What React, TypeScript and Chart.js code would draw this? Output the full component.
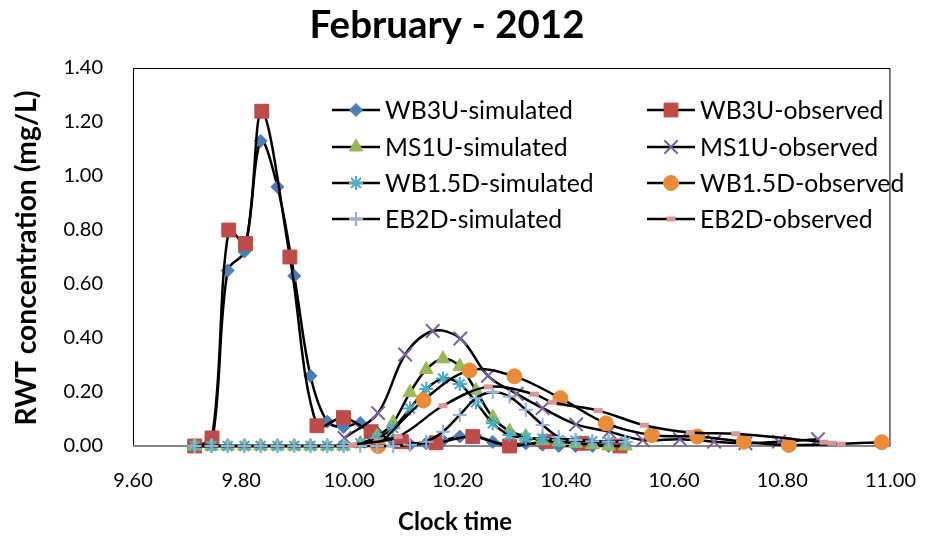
import React, { useEffect, useRef } from 'react';
import { Chart, registerables } from 'chart.js';
import { drawPoint } from 'chart.js/helpers';

Chart.register(...registerables);

const TITLE = 'February - 2012';
const X_TITLE = 'Clock time';
const Y_TITLE = 'RWT concentration (mg/L)';

const xTickValues = [9.6, 9.8, 10.0, 10.2, 10.4, 10.6, 10.8, 11.0];
const yTickValues = [0, 0.2, 0.4, 0.6, 0.8, 1.0, 1.2, 1.4];

// simulated series share one time grid
const simTimes = [9.714, 9.745, 9.775, 9.806, 9.836, 9.867, 9.898, 9.928, 9.959, 9.989, 10.020, 10.051, 10.081, 10.112, 10.142, 10.173, 10.204, 10.234, 10.265, 10.296, 10.326, 10.357, 10.387, 10.418, 10.449, 10.479, 10.510];
const wb3uSim = [0, 0.0, 0.65, 0.72, 1.13, 0.96, 0.63, 0.26, 0.09, 0.07, 0.085, 0.05, 0.02, 0.005, 0.01, 0.02, 0.035, 0.035, 0.015, 0.005, 0.01, 0.005, 0, 0, 0, 0, 0];
const ms1uSim = [0, 0, 0, 0, 0, 0, 0, 0, 0, 0, 0.01, 0.035, 0.087, 0.198, 0.283, 0.323, 0.295, 0.205, 0.106, 0.055, 0.035, 0.02, 0.015, 0.01, 0.005, 0, 0];
const wb15dSim = [0, 0, 0, 0, 0, 0, 0, 0, 0, 0, 0.01, 0.029, 0.066, 0.139, 0.211, 0.25, 0.23, 0.162, 0.084, 0.041, 0.03, 0.027, 0.022, 0.02, 0.018, 0.016, 0.015];
const eb2dSim = [0, 0, 0, 0, 0, 0, 0, 0, 0, 0, 0, 0, 0, 0.005, 0.016, 0.053, 0.115, 0.177, 0.2, 0.183, 0.134, 0.078, 0.033, 0.022, 0.018, 0.016, 0.015];

// observed series
const wb3uObsTimes = [9.714, 9.746, 9.777, 9.808, 9.838, 9.890, 9.940, 9.989, 10.040, 10.096, 10.160, 10.228, 10.296, 10.364, 10.430, 10.500];
const wb3uObs = [0, 0.03, 0.80, 0.75, 1.24, 0.70, 0.075, 0.105, 0.053, 0.016, 0.012, 0.035, 0, 0.016, 0.01, 0];

const ms1uObsTimes = [9.991, 10.053, 10.103, 10.154, 10.205, 10.256, 10.309, 10.357, 10.419, 10.480, 10.542, 10.611, 10.674, 10.732, 10.794, 10.866];
const ms1uObs = [0.03, 0.122, 0.339, 0.426, 0.398, 0.26, 0.193, 0.14, 0.08, 0.053, 0.022, 0.025, 0.016, 0.01, 0.016, 0.025];

const wb15dObsTimes = [10.053, 10.137, 10.222, 10.305, 10.390, 10.474, 10.559, 10.643, 10.729, 10.812, 10.984];
const wb15dObs = [0, 0.169, 0.28, 0.258, 0.177, 0.084, 0.041, 0.035, 0.016, 0.004, 0.014];

const eb2dObsTimes = [10.006, 10.090, 10.173, 10.257, 10.342, 10.375, 10.460, 10.545, 10.630, 10.714, 10.877, 10.892, 10.909];
const eb2dObs = [0.004, 0.035, 0.149, 0.219, 0.192, 0.162, 0.131, 0.077, 0.05, 0.045, 0.014, 0.01, 0.007];

const seriesLabels = [
  'WB3U-simulated', 'WB3U-observed',
  'MS1U-simulated', 'MS1U-observed',
  'WB1.5D-simulated', 'WB1.5D-observed',
  'EB2D-simulated', 'EB2D-observed',
];

const seriesData = [
  [simTimes, wb3uSim],
  [wb3uObsTimes, wb3uObs],
  [simTimes, ms1uSim],
  [ms1uObsTimes, ms1uObs],
  [simTimes, wb15dSim],
  [wb15dObsTimes, wb15dObs],
  [simTimes, eb2dSim],
  [eb2dObsTimes, eb2dObs],
];

const markerStyles = [
  { pointStyle: 'rectRot', color: '#4A7EBB', radius: 6.5, bw: 1 },
  { pointStyle: 'rect', color: '#BE4B48', radius: 9.8, bw: 1 },
  { pointStyle: 'triangle', color: '#98B954', radius: 8, bw: 1 },
  { pointStyle: 'crossRot', color: '#7D60A0', radius: 9.5, bw: 2 },
  { pointStyle: 'star', color: '#4BACC6', radius: 7, bw: 2 },
  { pointStyle: 'circle', color: '#EA8B3A', radius: 7.5, bw: 1 },
  { pointStyle: 'cross', color: '#94B2D8', radius: 7, bw: 2 },
  { pointStyle: 'line', color: '#D99795', radius: 4.5, bw: 5 },
];

const FONT = 'Lato, "Open Sans", sans-serif';

function fitSize(ctx, text, weight, target) {
  ctx.font = `${weight} 100px ${FONT}`;
  const w = ctx.measureText(text).width;
  return (100 * target) / w;
}

const overlayPlugin = {
  id: 'overlay',
  beforeDatasetsDraw(chart) {
    const { ctx, chartArea: a } = chart;
    ctx.save();
    ctx.strokeStyle = '#000';
    ctx.lineWidth = 1;
    ctx.strokeRect(a.left + 0.5, a.top + 0.5, a.right - a.left - 1, a.bottom - a.top - 1);
    ctx.strokeStyle = '#868686';
    ctx.lineWidth = 2;
    ctx.beginPath();
    ctx.moveTo(a.left, a.bottom);
    ctx.lineTo(a.right, a.bottom);
    ctx.stroke();
    ctx.restore();
  },
  afterDraw(chart) {
    const { ctx } = chart;
    ctx.save();
    ctx.fillStyle = '#000';
    ctx.textAlign = 'center';
    ctx.textBaseline = 'middle';

    // chart title
    let s = fitSize(ctx, TITLE, 'bold', 275);
    ctx.font = `bold ${s}px ${FONT}`;
    ctx.fillText(TITLE, 447, 26);

    // x axis title
    s = fitSize(ctx, X_TITLE, 'bold', 114);
    ctx.font = `bold ${s}px ${FONT}`;
    ctx.fillText(X_TITLE, 455, 522);

    // y axis title
    s = fitSize(ctx, Y_TITLE, 'bold', 335);
    ctx.font = `bold ${s}px ${FONT}`;
    ctx.save();
    ctx.translate(27, 258);
    ctx.rotate(-Math.PI / 2);
    ctx.fillText(Y_TITLE, 0, 0);
    ctx.restore();

    // legend
    const ls = fitSize(ctx, seriesLabels[0], 'normal', 188);
    const colX = [356, 671];
    const rowY = [110, 147, 183, 219];
    seriesLabels.forEach((label, i) => {
      const mx = colX[i % 2];
      const my = rowY[Math.floor(i / 2)];
      ctx.strokeStyle = '#000';
      ctx.lineWidth = 2.5;
      ctx.beginPath();
      ctx.moveTo(mx - 24, my);
      ctx.lineTo(mx + 24, my);
      ctx.stroke();
      const st = markerStyles[i];
      ctx.fillStyle = st.color;
      ctx.strokeStyle = st.color;
      ctx.lineWidth = st.bw;
      drawPoint(ctx, { pointStyle: st.pointStyle, radius: st.radius, borderWidth: st.bw, rotation: 0 }, mx, my);
      ctx.fillStyle = '#000';
      ctx.font = `normal ${ls}px ${FONT}`;
      ctx.textAlign = 'left';
      ctx.fillText(label, mx + 29, my + 1);
    });
    ctx.restore();
  },
};

export default function App() {
  const canvasRef = useRef(null);

  useEffect(() => {
    const datasets = seriesLabels.map((label, i) => {
      const [xs, ys] = seriesData[i];
      const st = markerStyles[i];
      return {
        label,
        data: xs.map((x, k) => ({ x, y: ys[k] })),
        showLine: true,
        borderColor: '#000',
        borderWidth: 2.5,
        tension: 0.35,
        clip: false,
        pointStyle: st.pointStyle,
        pointRadius: st.radius,
        pointBackgroundColor: st.color,
        pointBorderColor: st.color,
        pointBorderWidth: st.bw,
        order: 20 - i,
      };
    });

    const chart = new Chart(canvasRef.current, {
      type: 'scatter',
      data: { datasets },
      options: {
        responsive: false,
        devicePixelRatio: 1,
        animation: false,
        layout: { padding: { left: 0, right: 47, top: 68, bottom: 0 } },
        plugins: {
          legend: { display: false },
          tooltip: { enabled: false },
          title: { display: false },
        },
        scales: {
          x: {
            type: 'linear',
            min: 9.6,
            max: 11.0,
            afterBuildTicks: (sc) => { sc.ticks = xTickValues.map((v) => ({ value: v })); },
            afterFit: (sc) => { sc.height = 92; },
            ticks: {
              color: '#000',
              font: { family: FONT, size: 20 },
              padding: 23,
              maxRotation: 0,
              callback: (v) => Number(v).toFixed(2),
            },
            grid: { display: false, drawTicks: false },
            border: { display: false },
          },
          y: {
            type: 'linear',
            min: 0,
            max: 1.4,
            afterBuildTicks: (sc) => { sc.ticks = yTickValues.map((v) => ({ value: v })); },
            afterFit: (sc) => { sc.width = 133; },
            ticks: {
              color: '#000',
              font: { family: FONT, size: 20 },
              padding: 30,
              callback: (v) => Number(v).toFixed(2),
            },
            grid: { display: false, drawTicks: false },
            border: { display: false },
          },
        },
      },
      plugins: [overlayPlugin],
    });
    return () => chart.destroy();
  }, []);

  return (
    <div style={{ position: 'absolute', left: 0, top: 0, width: 939, height: 538, background: '#fff' }}>
      <canvas ref={canvasRef} width={939} height={538} style={{ display: 'block' }} />
    </div>
  );
}
